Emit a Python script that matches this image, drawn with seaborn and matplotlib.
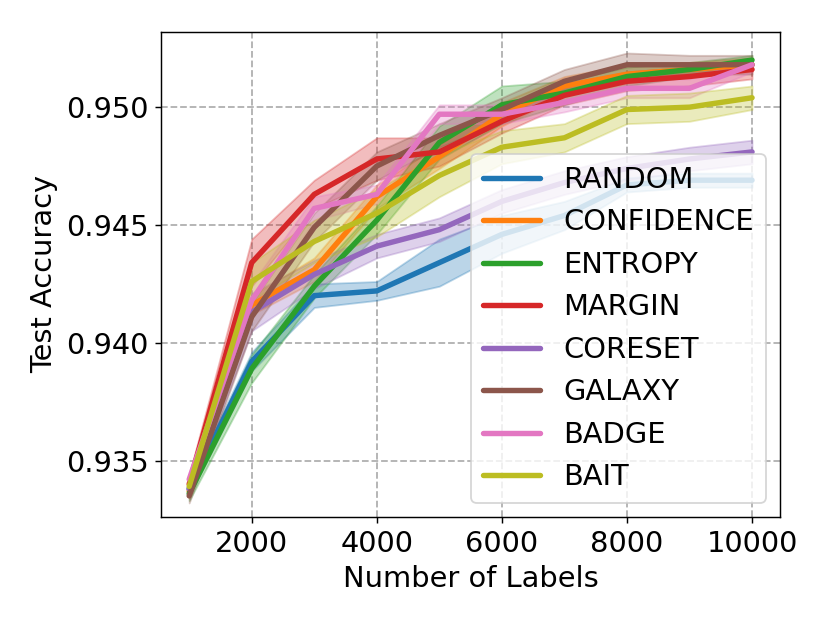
import numpy as np
import pandas as pd
import matplotlib
matplotlib.use("Agg")
import matplotlib.pyplot as plt
import seaborn as sns

# ------------------------------------------------------------
# data
# ------------------------------------------------------------
num_labels = [1000, 2000, 3000, 4000, 5000, 6000, 7000, 8000, 9000, 10000]
methods = ["RANDOM", "CONFIDENCE", "ENTROPY", "MARGIN",
           "CORESET", "GALAXY", "BADGE", "BAIT"]

random_mean = [0.9338, 0.9392, 0.9420, 0.9422, 0.9434, 0.9446, 0.9454, 0.9467, 0.9469, 0.9469]
random_err = [0.0003, 0.0004, 0.0005, 0.0004, 0.0010, 0.0008, 0.0006, 0.0003, 0.0003, 0.0003]

confidence_mean = [0.9337, 0.9416, 0.9431, 0.9462, 0.9479, 0.9497, 0.9509, 0.9514, 0.9516, 0.9518]
confidence_err = [0.0003, 0.0004, 0.0005, 0.0005, 0.0005, 0.0005, 0.0004, 0.0004, 0.0003, 0.0003]

entropy_mean = [0.9336, 0.9389, 0.9424, 0.9452, 0.9485, 0.9501, 0.9506, 0.9513, 0.9516, 0.9520]
entropy_err = [0.0003, 0.0006, 0.0005, 0.0006, 0.0007, 0.0008, 0.0005, 0.0004, 0.0003, 0.0002]

margin_mean = [0.9340, 0.9434, 0.9463, 0.9478, 0.9481, 0.9494, 0.9505, 0.9511, 0.9513, 0.9516]
margin_err = [0.0004, 0.0010, 0.0006, 0.0009, 0.0006, 0.0005, 0.0004, 0.0004, 0.0004, 0.0004]

coreset_mean = [0.9338, 0.9413, 0.9429, 0.9441, 0.9448, 0.9460, 0.9468, 0.9474, 0.9478, 0.9481]
coreset_err = [0.0003, 0.0008, 0.0006, 0.0005, 0.0005, 0.0005, 0.0005, 0.0005, 0.0005, 0.0005]

galaxy_mean = [0.9335, 0.9411, 0.9449, 0.9475, 0.9488, 0.9499, 0.9511, 0.9518, 0.9518, 0.9518]
galaxy_err = [0.0003, 0.0006, 0.0006, 0.0006, 0.0005, 0.0005, 0.0005, 0.0005, 0.0004, 0.0004]

badge_mean = [0.9342, 0.9418, 0.9457, 0.9463, 0.9497, 0.9497, 0.9502, 0.9508, 0.9508, 0.9518]
badge_err = [0.0003, 0.0007, 0.0005, 0.0004, 0.0004, 0.0004, 0.0004, 0.0004, 0.0004, 0.0003]

bait_mean = [0.9339, 0.9426, 0.9443, 0.9455, 0.9471, 0.9483, 0.9487, 0.9499, 0.9500, 0.9504]
bait_err = [0.0003, 0.0008, 0.0009, 0.0010, 0.0009, 0.0007, 0.0006, 0.0006, 0.0006, 0.0005]

means = [random_mean, confidence_mean, entropy_mean, margin_mean,
         coreset_mean, galaxy_mean, badge_mean, bait_mean]
errs = [random_err, confidence_err, entropy_err, margin_err,
        coreset_err, galaxy_err, badge_err, bait_err]

# long-form table: low / mean / high per point -> band = min..max
rows = []
for name, m, e in zip(methods, means, errs):
    for x, mv, ev in zip(num_labels, m, e):
        for v in (mv - ev, mv, mv + ev):
            rows.append({"labels": x, "acc": v, "method": name})
df = pd.DataFrame(rows)

tab = sns.color_palette("tab10")
palette = dict(zip(methods, [tab[0], tab[1], tab[2], tab[3], tab[4], tab[5], tab[6], tab[8]]))

# ------------------------------------------------------------
# plot
# ------------------------------------------------------------
sns.set_style("ticks", {"text.color": "black", "axes.labelcolor": "black",
                        "xtick.color": "black", "ytick.color": "black",
                        "axes.edgecolor": "black"})
plt.rcParams["font.family"] = ["DejaVu Sans"]

fig, ax = plt.subplots(figsize=(830 / 130, 623 / 130), dpi=130)
fig.subplots_adjust(left=0.194, right=0.940, top=0.949, bottom=0.170)

sns.lineplot(
    data=df, x="labels", y="acc", hue="method",
    hue_order=methods, palette=palette,
    estimator="mean", errorbar=("pi", 100),
    linewidth=3, err_kws={"alpha": 0.3}, ax=ax
)

ax.grid(True, linestyle="--", color="#b0b0b0", linewidth=1)
ax.set_xticks([2000, 4000, 6000, 8000, 10000])
ax.set_yticks([0.935, 0.940, 0.945, 0.950])
ax.set_yticklabels(["0.935", "0.940", "0.945", "0.950"])
ax.set_ylim(0.9326, 0.9532)
ax.tick_params(labelsize=16)
ax.set_xlabel("Number of Labels", fontsize=16)
ax.set_ylabel("Test Accuracy", fontsize=16)

sns.move_legend(ax, "lower right", title=None, fontsize=16, framealpha=0.8)

plt.savefig("out.png", dpi=130)
